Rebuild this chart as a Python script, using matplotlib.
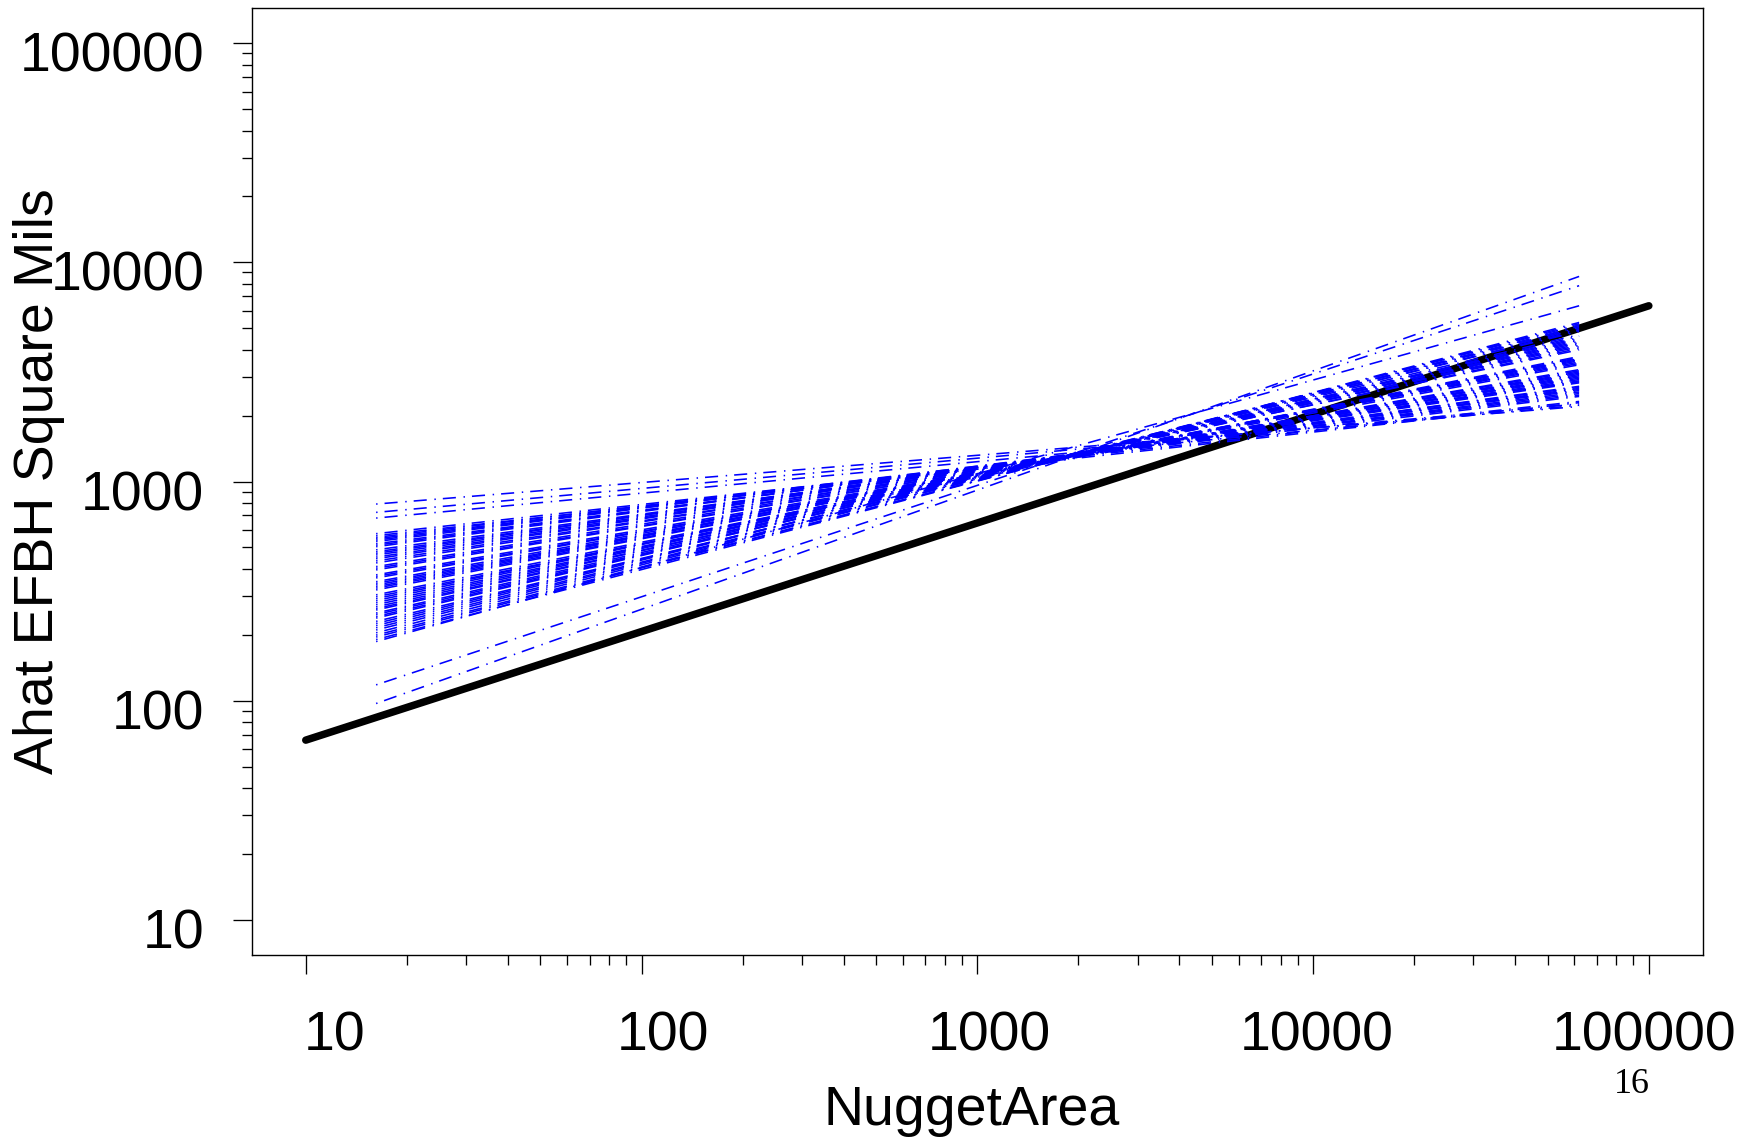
import matplotlib
matplotlib.use("Agg")
import matplotlib.pyplot as plt
import matplotlib.ticker as mticker
from matplotlib.transforms import ScaledTranslation

plt.rcParams["font.family"] = ["Liberation Sans", "DejaVu Sans"]

# ── data ─────────────────────────────────────────────────────────────────────
# reference line: Ahat vs NuggetArea
REF_X = [10, 100000]
REF_Y = [66, 6340]

# fitted lines, evaluated at the two ends of the observed NuggetArea range
FIT_X = [16.2, 62000]
FIT_Y_START = [789, 723, 681,
               578, 566, 556, 548, 540, 532, 520, 512, 504,
               488, 478, 470, 462, 452, 444, 434, 425,
               409, 402, 395, 375, 369, 363,
               349, 343, 337, 331, 326, 320,
               304, 298, 292, 286, 280, 274, 268, 263, 259,
               251, 247, 242, 238, 230, 225, 220, 215, 210,
               204, 199, 195, 190, 186, 118, 97]
FIT_Y_END = [2200, 2260, 2230, 2320, 2290, 2480, 2445, 2520, 2600, 2560, 2630, 2690, 2660, 2720,
             2850, 2820, 2880, 2960, 2920, 3000, 3080, 3040, 3120, 3200, 3160, 3240,
             3460, 3410, 3510, 3600, 3560, 3640, 3720, 3680,
             3990, 4120, 4050, 4180, 4300, 4240, 4360, 4480, 4420, 4540, 4680, 4610,
             4840, 4970, 4900, 5040, 5180, 5110, 5250, 5320,
             6340, 7830, 8630]

X_TICKS = [10, 100, 1000, 10000, 100000]
X_TICK_LABELS = ["10", "100", "1000", "10000", "100000"]
Y_TICKS = [10, 100, 1000, 10000, 100000]
Y_TICK_LABELS = ["10", "100", "1000", "10000", "100000"]
MINOR_TICKS = [k * 10 ** d for d in range(1, 5) for k in range(2, 10)]

PAGE_NUMBER = "16"

# ── style ────────────────────────────────────────────────────────────────────
BLUE = "#0000FF"
DASHDOT = (13.0, (8.2, 4.8, 0.9, 4.4))   # start on the dot (scaled by lw)
LABEL_SIZE = 40
X_LABEL_SHIFT_PX = [29, 21, 12, 4, -5]   # x tick labels sit a bit off their ticks


def main() -> None:
    fig = plt.figure(figsize=(17.44, 11.38), dpi=100)
    fig.patch.set_facecolor("white")
    ax = fig.add_axes([0.1443, 0.1608, 0.8322, 0.8322])
    ax.set_xscale("log")
    ax.set_yscale("log")
    ax.set_xlim(6.9, 145000)
    ax.set_ylim(6.9, 145000)

    ax.plot(REF_X, REF_Y, color="black", linewidth=5.4,
            solid_capstyle="round", zorder=2)
    for y0, y1 in zip(FIT_Y_START, FIT_Y_END):
        ax.plot(FIT_X, [y0, y1], color=BLUE, linewidth=1.15,
                linestyle=DASHDOT, zorder=3)

    # ticks: fixed decades + 2..9 minors, labels drawn by hand below
    for axis in (ax.xaxis, ax.yaxis):
        axis.set_major_locator(mticker.FixedLocator(X_TICKS))
        axis.set_minor_locator(mticker.FixedLocator(MINOR_TICKS))
        axis.set_major_formatter(mticker.NullFormatter())
        axis.set_minor_formatter(mticker.NullFormatter())
    ax.tick_params(which="major", direction="out", length=13.8, width=0.95,
                   top=False, right=False, color="black")
    ax.tick_params(which="minor", direction="out", length=7.0, width=0.95,
                   top=False, right=False, color="black")
    for side in ("left", "right", "top", "bottom"):
        ax.spines[side].set_linewidth(1.0)
        ax.spines[side].set_color("black")

    for v, lab, dx in zip(X_TICKS, X_TICK_LABELS, X_LABEL_SHIFT_PX):
        tr = ax.get_xaxis_transform() + ScaledTranslation(dx / 100, -95.7 / 100,
                                                          fig.dpi_scale_trans)
        ax.text(v, 0, lab, transform=tr, ha="center", va="baseline",
                fontsize=LABEL_SIZE, clip_on=False)
    for v, lab in zip(Y_TICKS, Y_TICK_LABELS):
        tr = ax.get_yaxis_transform() + ScaledTranslation(-47.3 / 100, -8.5 / 100,
                                                          fig.dpi_scale_trans)
        ax.text(0, v, lab, transform=tr, ha="right", va="center_baseline",
                fontsize=LABEL_SIZE, clip_on=False)

    ax.set_ylabel("Ahat EFBH Square Mils", fontsize=LABEL_SIZE)
    ax.yaxis.set_label_coords(-0.1285, 0.5)
    ax.set_xlabel("NuggetArea", fontsize=LABEL_SIZE, va="baseline")
    ax.xaxis.set_label_coords(0.4963, -0.1795)

    fig.text(0.9358, 0.0393, PAGE_NUMBER, fontsize=26,
             family=["Liberation Serif", "DejaVu Serif"],
             ha="center", va="baseline")

    fig.savefig("out.png", dpi=100, facecolor="white")
    plt.close(fig)


if __name__ == "__main__":
    main()
